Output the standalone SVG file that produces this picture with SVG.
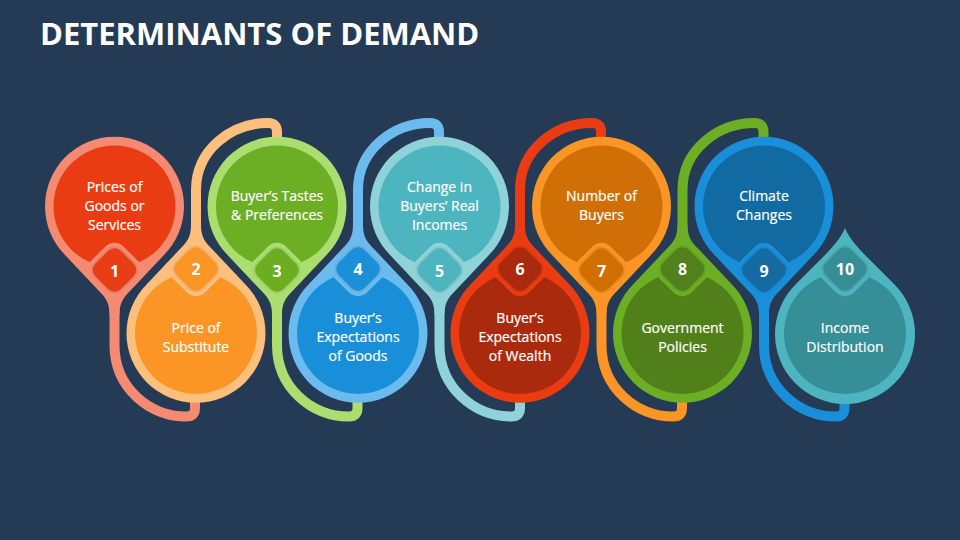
<svg xmlns="http://www.w3.org/2000/svg" width="960" height="540" viewBox="0 0 960 540">
<style>
text{font-family:"Open Sans","Liberation Sans",sans-serif;fill:#fff;text-anchor:middle}
.title{font-size:31px;font-weight:700;text-anchor:start}
.lbl{font-size:14px;font-weight:500;stroke:#fff;stroke-width:.2}
.num{font-size:16px;font-weight:700}
.tail{fill:none;stroke-width:10}
.r1{fill:#F58A72}.f1{fill:#E93C12}.s1{stroke:#F58A72}
.r2{fill:#FDBF7C}.f2{fill:#FB9526}.s2{stroke:#FDBF7C}
.r3{fill:#ABDD6F}.f3{fill:#6CAE24}.s3{stroke:#ABDD6F}
.r4{fill:#6CBBEE}.f4{fill:#1A8FD9}.s4{stroke:#6CBBEE}
.r5{fill:#8FD2D8}.f5{fill:#4DB5BF}.s5{stroke:#8FD2D8}
.r6{fill:#EA3C12}.f6{fill:#AA2A0D}.s6{stroke:#EA3C12}
.r7{fill:#FB9526}.f7{fill:#CF6F05}.s7{stroke:#FB9526}
.r8{fill:#6CAE24}.f8{fill:#51801B}.s8{stroke:#6CAE24}
.r9{fill:#1A8FD9}.f9{fill:#126AA2}.s9{stroke:#1A8FD9}
.r10{fill:#4DB5BF}.f10{fill:#368E96}
</style>
<defs>
<filter id="sh" x="-30%" y="-30%" width="160%" height="160%"><feDropShadow dx="0" dy="0" stdDeviation="1.6" flood-color="#000" flood-opacity=".3"/></filter>
<path id="dropDown" d="M-5,108C-5,96 -9,91 -16,84L-49,49A69.5,69.5 0 1 1 49,49L16,84C9,91 5,96 5,108Z"/>
<path id="dropUp" d="M-5,-108C-5,-96 -9,-91 -16,-84L-49,-49A69.5,69.5 0 1 0 49,-49L16,-84C9,-91 5,-96 5,-108Z"/>
<path id="dropTip" d="M0,-105C3,-97 11,-87 21,-77L49,-49A70,70 0 1 1 -49,-49L-21,-77C-11,-87 -3,-97 0,-105Z"/>
<path id="tailDown" d="M0,300V345C0,388 35,416.5 72,416.5Q80.5,416.5 80.5,408V398"/>
<path id="tailUp" d="M0,240V190C0,150 35,123 72,123Q81,123 81,132V142"/>
<rect id="dOut" x="-23" y="-23" width="46" height="46" rx="13" transform="rotate(45)"/>
<rect id="dIn" x="-18" y="-18" width="36" height="36" rx="9" transform="rotate(45)"/>
</defs>
<rect width="960" height="540" fill="#253A54"/>
<text class="title" x="40" y="45">DETERMINANTS OF DEMAND</text>
<g id="connectors" class="tail">
<use href="#tailDown" x="114.5" class="s1"/>
<use href="#tailUp" x="196" class="s2"/>
<use href="#tailDown" x="277" class="s3"/>
<use href="#tailUp" x="358" class="s4"/>
<use href="#tailDown" x="439.5" class="s5"/>
<use href="#tailUp" x="520" class="s6"/>
<use href="#tailDown" x="601.5" class="s7"/>
<use href="#tailUp" x="682.5" class="s8"/>
<use href="#tailDown" x="764" class="s9"/>
</g>
<g id="node1" transform="translate(114.5,206.5)">
<use href="#dropDown" class="r1"/><circle r="61" class="f1"/>
<use href="#dOut" transform="translate(0,63.5)" class="r1"/><use href="#dIn" transform="translate(0,63.5)" class="f1" filter="url(#sh)"/>
<text class="lbl" y="-15">Prices of</text><text class="lbl" y="4">Goods or</text><text class="lbl" y="23">Services</text>
<text class="num" y="70">1</text>
</g>
<g id="node2" transform="translate(196,333)">
<use href="#dropUp" class="r2"/><circle r="61" class="f2"/>
<use href="#dOut" transform="translate(0,-64)" class="r2"/><use href="#dIn" transform="translate(0,-64)" class="f2" filter="url(#sh)"/>
<text class="lbl" y="0">Price of</text><text class="lbl" y="19">Substitute</text>
<text class="num" y="-58">2</text>
</g>
<g id="node3" transform="translate(277,206.5)">
<use href="#dropDown" class="r3"/><circle r="61" class="f3"/>
<use href="#dOut" transform="translate(0,63.5)" class="r3"/><use href="#dIn" transform="translate(0,63.5)" class="f3" filter="url(#sh)"/>
<text class="lbl" y="-6">Buyer’s Tastes</text><text class="lbl" y="13">&amp; Preferences</text>
<text class="num" y="70">3</text>
</g>
<g id="node4" transform="translate(358,333)">
<use href="#dropUp" class="r4"/><circle r="61" class="f4"/>
<use href="#dOut" transform="translate(0,-64)" class="r4"/><use href="#dIn" transform="translate(0,-64)" class="f4" filter="url(#sh)"/>
<text class="lbl" y="-10">Buyer’s</text><text class="lbl" y="9">Expectations</text><text class="lbl" y="28">of Goods</text>
<text class="num" y="-58">4</text>
</g>
<g id="node5" transform="translate(439.5,206.5)">
<use href="#dropDown" class="r5"/><circle r="61" class="f5"/>
<use href="#dOut" transform="translate(0,63.5)" class="r5"/><use href="#dIn" transform="translate(0,63.5)" class="f5" filter="url(#sh)"/>
<text class="lbl" y="-15">Change in</text><text class="lbl" y="4">Buyers’ Real</text><text class="lbl" y="23">Incomes</text>
<text class="num" y="70">5</text>
</g>
<g id="node6" transform="translate(520,333)">
<use href="#dropUp" class="r6"/><circle r="61" class="f6"/>
<use href="#dOut" transform="translate(0,-64)" class="r6"/><use href="#dIn" transform="translate(0,-64)" class="f6" filter="url(#sh)"/>
<text class="lbl" y="-10">Buyer’s</text><text class="lbl" y="9">Expectations</text><text class="lbl" y="28">of Wealth</text>
<text class="num" y="-58">6</text>
</g>
<g id="node7" transform="translate(601.5,206.5)">
<use href="#dropDown" class="r7"/><circle r="61" class="f7"/>
<use href="#dOut" transform="translate(0,63.5)" class="r7"/><use href="#dIn" transform="translate(0,63.5)" class="f7" filter="url(#sh)"/>
<text class="lbl" y="-6">Number of</text><text class="lbl" y="13">Buyers</text>
<text class="num" y="70">7</text>
</g>
<g id="node8" transform="translate(682.5,333)">
<use href="#dropUp" class="r8"/><circle r="61" class="f8"/>
<use href="#dOut" transform="translate(0,-64)" class="r8"/><use href="#dIn" transform="translate(0,-64)" class="f8" filter="url(#sh)"/>
<text class="lbl" y="0">Government</text><text class="lbl" y="19">Policies</text>
<text class="num" y="-58">8</text>
</g>
<g id="node9" transform="translate(764,206.5)">
<use href="#dropDown" class="r9"/><circle r="61" class="f9"/>
<use href="#dOut" transform="translate(0,63.5)" class="r9"/><use href="#dIn" transform="translate(0,63.5)" class="f9" filter="url(#sh)"/>
<text class="lbl" y="-6">Climate</text><text class="lbl" y="13">Changes</text>
<text class="num" y="70">9</text>
</g>
<g id="node10" transform="translate(845,333)">
<use href="#dropTip" class="r10"/><circle r="61" class="f10"/>
<use href="#dOut" transform="translate(0,-64)" class="r10"/><use href="#dIn" transform="translate(0,-64)" class="f10" filter="url(#sh)"/>
<text class="lbl" y="0">Income</text><text class="lbl" y="19">Distribution</text>
<text class="num" y="-58">10</text>
</g>
</svg>
